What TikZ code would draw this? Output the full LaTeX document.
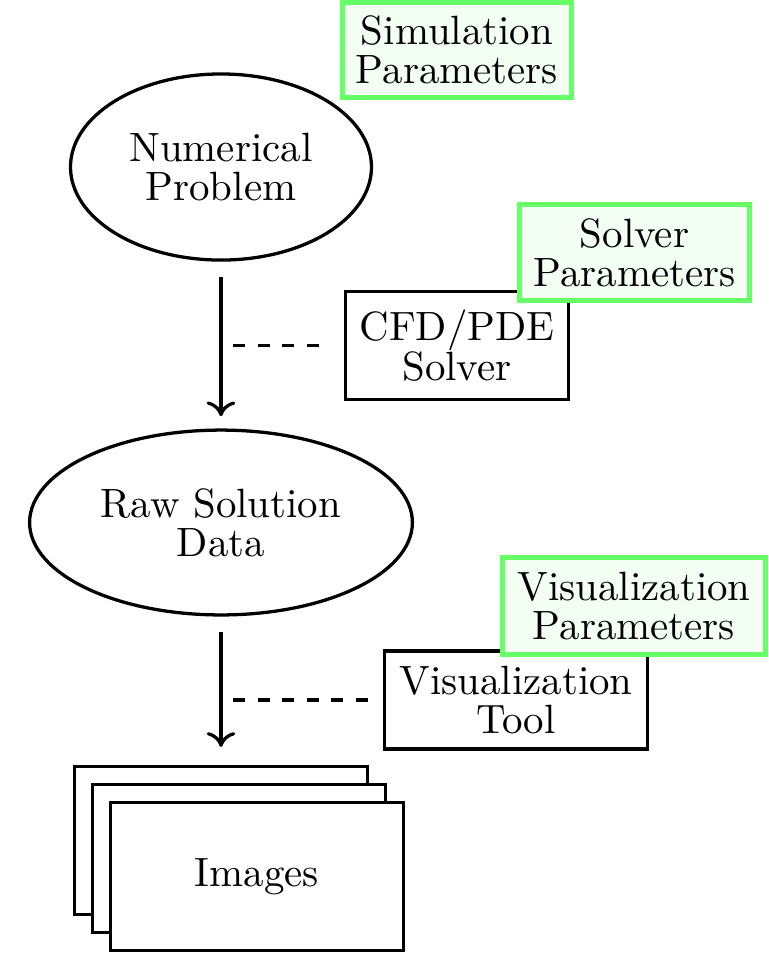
\documentclass[tikz,border=0pt]{standalone}
\usetikzlibrary{shapes.geometric,arrows.meta}
\definecolor{paragreen}{RGB}{102,255,102}
\definecolor{parafill}{RGB}{242,255,242}
\begin{document}
\begin{tikzpicture}[x=0.2445pt,y=-0.2445pt,
  every node/.style={font=\fontsize{10}{9.6}\selectfont, align=center, inner sep=0pt, outer sep=0pt},
  para/.style={draw=paragreen, fill=parafill, line width=1.2pt, rectangle},
  tool/.style={draw, thick, rectangle, fill=white},
  data/.style={draw, thick, ellipse},
  page/.style={draw, thick, fill=white, rectangle, minimum width=71.6pt, minimum height=36.2pt},
  flow/.style={thick,-{Computer Modern Rightarrow[width=7pt,length=3.6pt]}},
  link/.style={thick, dashed}]
\useasboundingbox (0,0) rectangle (769,956);

% nodes
\node[para, minimum width=56pt, minimum height=23.3pt] (simp) at (457,50) {Simulation\\Parameters};
\node[data, minimum width=73.6pt, minimum height=45.5pt] (np) at (221,167) {Numerical\\Problem};
\node[tool, minimum width=54.5pt, minimum height=26.4pt] (cfd) at (457,345.5) {CFD/PDE\\Solver};
\node[para, minimum width=56.3pt, minimum height=23.5pt] (solp) at (634.5,252.5) {Solver\\Parameters};
\node[data, minimum width=93.6pt, minimum height=45.2pt] (raw) at (221,522.5) {Raw Solution\\Data};
\node[tool, minimum width=64.3pt, minimum height=24pt] (vis) at (516,700) {Visualization\\Tool};
\node[para, minimum width=64.3pt, minimum height=23.8pt] (visp) at (634,606) {Visualization\\Parameters};

\node[page] (img1) at (221,840.5) {};
\node[page] (img2) at (239,858.5) {};
\node[page] (img3) at (257,876.5) {Images};

% connectors
\draw[flow, shorten <=4.1pt, shorten >=3.4pt] (np.south) -- (raw.north);
\draw[flow, shorten <=4.1pt, shorten >=4.8pt] (raw.south) -- (img1.north);

\coordinate (d1) at (233,345.5);
\coordinate (d2) at (233,700);
\draw[link, shorten >=6pt] (d1) -- (d1 -| cfd.west);
\draw[link, shorten >=3pt] (d2) -- (d2 -| vis.west);
\end{tikzpicture}
\end{document}
